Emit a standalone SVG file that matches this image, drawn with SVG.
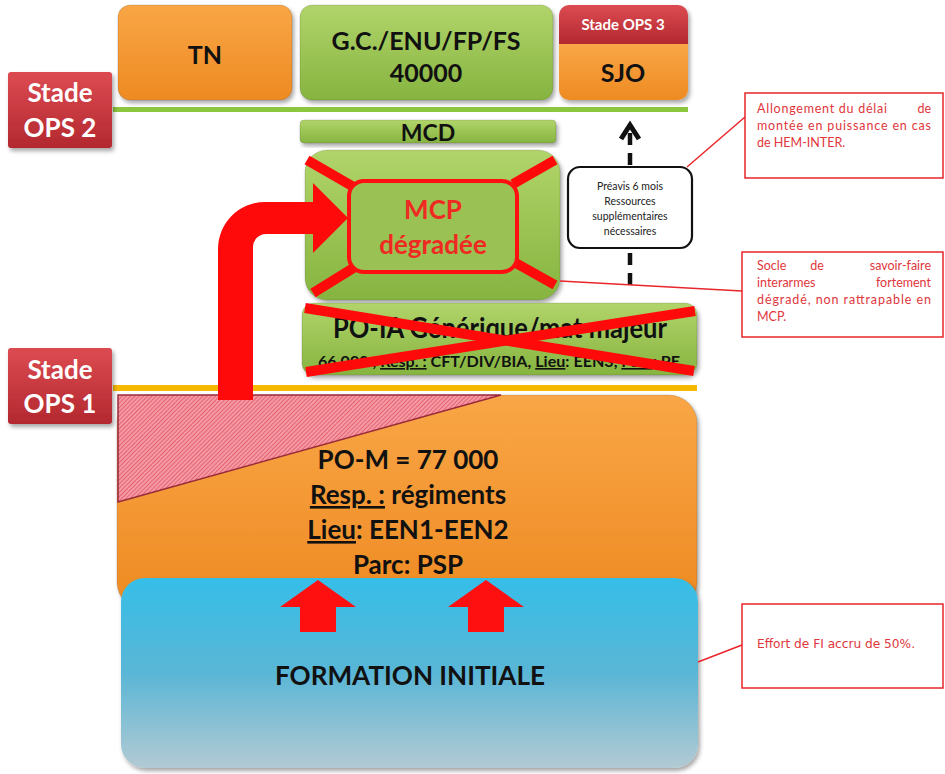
<svg xmlns="http://www.w3.org/2000/svg" width="945" height="774" viewBox="0 0 945 774">
<defs>
<linearGradient id="gOrange" x1="0" y1="0" x2="0" y2="1"><stop offset="0" stop-color="#f9a646"/><stop offset="1" stop-color="#ee8a22"/></linearGradient>
<linearGradient id="gGreen" x1="0" y1="0" x2="0" y2="1"><stop offset="0" stop-color="#b1d46a"/><stop offset="1" stop-color="#86b440"/></linearGradient>
<linearGradient id="gRed" x1="0" y1="0" x2="0" y2="1"><stop offset="0" stop-color="#dc4b51"/><stop offset="1" stop-color="#b3282f"/></linearGradient>
<linearGradient id="gBlue" x1="0" y1="0" x2="0" y2="1"><stop offset="0" stop-color="#35bee8"/><stop offset="0.5" stop-color="#5ab6d6"/><stop offset="1" stop-color="#b2cad3"/></linearGradient>
<pattern id="hatch" width="3" height="3" patternUnits="userSpaceOnUse" patternTransform="rotate(45)">
<rect width="3" height="3" fill="#f59aa5"/>
<line x1="0" y1="0" x2="0" y2="3" stroke="#d8404f" stroke-width="1.2"/>
</pattern>
<filter id="sh" x="-10%" y="-10%" width="120%" height="130%">
<feDropShadow dx="2" dy="3" stdDeviation="2" flood-color="#000" flood-opacity="0.35"/>
</filter>
</defs>
<style>
text{font-family:Lato,"Open Sans","Liberation Sans",sans-serif;font-weight:bold}
.big{font-size:25px;fill:#111;text-anchor:middle}
.stage{font-size:26px;fill:#fff;text-anchor:middle}
.note{font-size:12.5px;font-weight:normal;fill:#e0363c}
.narrow{font-family:"DejaVu Sans Condensed","Liberation Sans Narrow",sans-serif;font-size:12px}
.small{font-size:10.5px;font-weight:normal;fill:#222;text-anchor:middle}
.box{stroke:rgba(0,0,0,0.12);stroke-width:1}
.cross{stroke:#ff0a0a;stroke-width:10;stroke-linecap:butt}
.callout{fill:#fff;stroke:#e8262b;stroke-width:1.5}
.conn{stroke:#e8262b;stroke-width:1.5;fill:none}
</style>

<!-- stage lines -->
<rect x="113" y="107" width="575" height="5" fill="#8cc63f"/>
<rect x="113" y="385" width="584" height="6" fill="#f5b800"/>

<g id="tn">
<rect class="box" x="118" y="5" width="174" height="95" rx="12" fill="url(#gOrange)" filter="url(#sh)"/>
<text class="big" x="205" y="64">TN</text>
</g>

<g id="gc">
<rect class="box" x="300" y="5" width="253" height="95" rx="12" fill="url(#gGreen)" filter="url(#sh)"/>
<text class="big" x="426" y="50">G.C./ENU/FP/FS</text>
<text class="big" x="426" y="82">40000</text>
</g>

<g id="sjo">
<g filter="url(#sh)">
<path d="M559,44 V15 A10,10 0 0 1 569,5 H678 A10,10 0 0 1 688,15 V44 Z" fill="url(#gRed)"/>
<path d="M559,44 H688 V90 A10,10 0 0 1 678,100 H569 A10,10 0 0 1 559,90 Z" fill="url(#gOrange)"/>
</g>
<text x="623" y="30" font-size="15" fill="#fff" text-anchor="middle">Stade OPS 3</text>
<text class="big" x="623" y="82">SJO</text>
</g>

<g id="stade-ops-2">
<rect x="8" y="72" width="104" height="76" rx="3" fill="url(#gRed)" filter="url(#sh)"/>
<text class="stage" x="60" y="102">Stade</text>
<text class="stage" x="60" y="137">OPS 2</text>
</g>

<g id="mcd">
<rect class="box" x="300" y="120" width="256" height="23" rx="4" fill="url(#gGreen)" filter="url(#sh)"/>
<text class="big" x="428" y="141" style="font-size:23px">MCD</text>
</g>

<g id="mcp">
<rect class="box" x="305" y="150" width="255" height="150" rx="22" fill="url(#gGreen)" filter="url(#sh)"/>
<line class="cross" x1="307" y1="160" x2="352" y2="186"/>
<line class="cross" x1="555" y1="160" x2="513" y2="184"/>
<line class="cross" x1="313" y1="293" x2="355" y2="267"/>
<line class="cross" x1="555" y1="285" x2="514" y2="262"/>
<rect x="349" y="181" width="168" height="91" rx="15" fill="#9ac153" stroke="#ff1010" stroke-width="4"/>
<text x="433" y="219" font-size="26" fill="#ef2a22" text-anchor="middle">MCP</text>
<text x="433" y="254" font-size="26" fill="#ef2a22" text-anchor="middle">dégradée</text>
</g>

<g id="po-ia">
<rect class="box" x="302" y="303" width="395" height="72" rx="12" fill="url(#gGreen)" filter="url(#sh)"/>
<text x="500" y="338" font-size="29" fill="#111" text-anchor="middle" textLength="334" lengthAdjust="spacingAndGlyphs">PO-IA Générique/mat majeur</text>
<text x="499" y="367" font-size="16" fill="#111" text-anchor="middle" textLength="362" lengthAdjust="spacingAndGlyphs">66 000 , <tspan text-decoration="underline">Resp. :</tspan> CFT/DIV/BIA, <tspan text-decoration="underline">Lieu</tspan>: EEN3, <tspan text-decoration="underline">Parc</tspan>: PE</text>
<line class="cross" x1="305" y1="308" x2="694" y2="371"/>
<line class="cross" x1="306" y1="372" x2="695" y2="311"/>
</g>

<g id="stade-ops-1">
<rect x="8" y="348" width="104" height="76" rx="3" fill="url(#gRed)" filter="url(#sh)"/>
<text class="stage" x="60" y="379">Stade</text>
<text class="stage" x="60" y="413">OPS 1</text>
</g>

<g id="po-m">
<rect class="box" x="117" y="395" width="580" height="215" rx="28" fill="url(#gOrange)" filter="url(#sh)"/>
<polygon points="118,395 501,395 118,502" fill="url(#hatch)" stroke="#9b2b3a" stroke-width="1.5"/>
<text class="big" x="408" y="469" style="font-size:26px">PO-M = 77 000</text>
<text class="big" x="408" y="504" style="font-size:26px"><tspan text-decoration="underline">Resp. :</tspan> régiments</text>
<text class="big" x="408" y="539" style="font-size:26px"><tspan text-decoration="underline">Lieu</tspan>: EEN1-EEN2</text>
<text class="big" x="408" y="574" style="font-size:26px">Parc: PSP</text>
</g>

<g id="formation-initiale">
<rect x="121" y="578" width="577" height="190" rx="24" fill="url(#gBlue)" filter="url(#sh)"/>
<text class="big" x="410" y="685" style="font-size:27px" textLength="270" lengthAdjust="spacingAndGlyphs">FORMATION INITIALE</text>
<path d="M318,580 L356,607 L336,607 L336,632 L300,632 L300,607 L280,607 Z" fill="#ff1010"/>
<path d="M486,580 L524,607 L504,607 L504,632 L468,632 L468,607 L448,607 Z" fill="#ff1010"/>
</g>

<g id="connectors">
<path d="M218,400 L218,249 A47,47 0 0 1 265,202 L313,202 L313,183 L348,218 L313,253 L313,234 L266,234 A13,13 0 0 0 253,247 L253,400 Z" fill="#ff0a0a"/>
<line x1="630" y1="285" x2="630" y2="130" stroke="#111" stroke-width="4.5" stroke-dasharray="12,8"/>
<polyline points="621,139 630,125 639,139" fill="none" stroke="#111" stroke-width="5"/>
<line class="conn" x1="745" y1="117" x2="687" y2="167"/>
<line class="conn" x1="742" y1="291" x2="560" y2="281"/>
<line class="conn" x1="742" y1="645" x2="698" y2="662"/>
</g>

<g id="preavis">
<rect x="568" y="167" width="124" height="81" rx="12" fill="#fff" stroke="#111" stroke-width="2.2"/>
<text class="small" x="630" y="190">Préavis 6 mois</text>
<text class="small" x="630" y="205">Ressources</text>
<text class="small" x="630" y="220">supplémentaires</text>
<text class="small" x="630" y="235">nécessaires</text>
</g>

<g id="note-allongement">
<rect class="callout" x="745" y="93" width="198" height="85"/>
<text class="note" x="757" y="113" textLength="130" lengthAdjust="spacing">Allongement du délai</text>
<text class="note" x="931" y="113" text-anchor="end">de</text>
<text class="note" x="757" y="130" textLength="174" lengthAdjust="spacing">montée en puissance en cas</text>
<text class="note" x="757" y="147">de HEM-INTER.</text>
</g>

<g id="note-socle">
<rect class="callout" x="742" y="252" width="201" height="85"/>
<text class="note" x="757" y="270">Socle</text>
<text class="note" x="817" y="270" text-anchor="middle">de</text>
<text class="note" x="931" y="270" text-anchor="end">savoir-faire</text>
<text class="note" x="757" y="287">interarmes</text>
<text class="note" x="931" y="287" text-anchor="end">fortement</text>
<text class="note" x="757" y="304" textLength="174" lengthAdjust="spacing">dégradé, non rattrapable en</text>
<text class="note" x="757" y="321">MCP.</text>
</g>

<g id="note-effort">
<rect class="callout" x="742" y="604" width="201" height="84"/>
<text class="note narrow" x="757" y="648" textLength="158" lengthAdjust="spacingAndGlyphs">Effort de FI accru de 50%.</text>
</g>
</svg>
